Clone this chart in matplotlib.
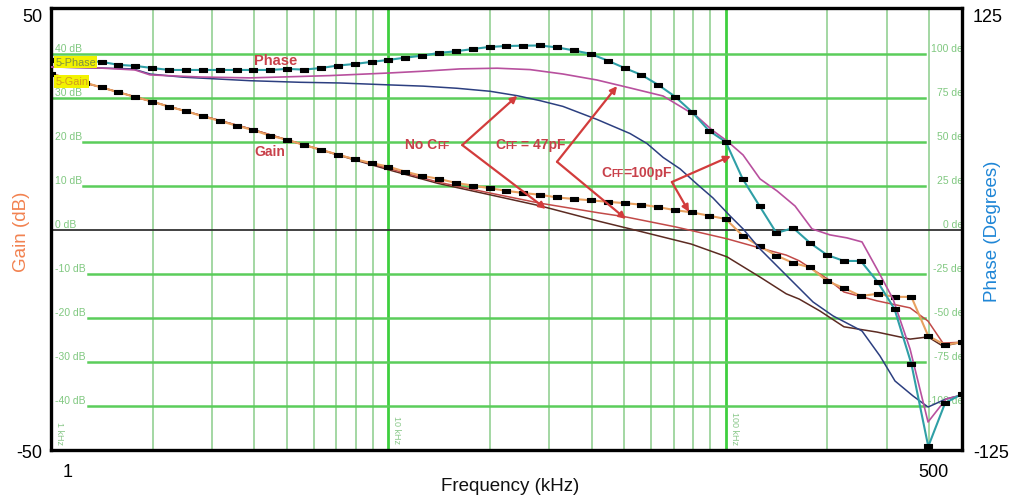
import numpy as np
import matplotlib
matplotlib.use('Agg')
import matplotlib.pyplot as plt
from matplotlib.path import Path
from matplotlib.ticker import NullLocator
from matplotlib.offsetbox import TextArea, HPacker, AnnotationBbox

plt.rcParams['font.family'] = ['Liberation Sans', 'DejaVu Sans']

# ---------------- data ----------------
# swept frequencies of the marked traces (kHz), 20 points per decade
freq_khz = np.logspace(0, 2.7, 55)

phase_100pF = [96.5, 96.5, 96.0, 95.5, 93.8, 93.2, 92.0, 90.9, 90.9, 90.9,
               90.9, 90.9, 90.9, 90.9, 91.5, 91.1, 92.0, 93.4, 94.3, 95.5,
               96.6, 97.9, 99.0, 100.6, 101.5, 102.8, 104.0, 104.5, 104.7, 104.8,
               103.7, 102.0, 100.0, 96.2, 92.0, 88.1, 82.4, 75.7, 67.0, 56.4,
               50.0, 29.0, 13.6, -1.7, 1.1, -7.4, -14.2, -17.6, -17.6, -29.5,
               -44.9, -76.1, -123.0, -98.3, -93.2]

gain_100pF = [35.5, 34.5, 33.5, 32.4, 31.3, 30.2, 29.2, 28.0, 27.0, 25.8,
              24.8, 23.7, 22.7, 21.4, 20.5, 19.3, 18.25, 17.1, 16.1, 15.2,
              14.4, 13.25, 12.3, 11.6, 10.7, 10.1, 9.5, 8.9, 8.4, 8.0,
              7.4, 7.05, 6.75, 6.4, 6.1, 5.75, 5.2, 4.5, 4.0, 3.25,
              2.5, -1.3, -3.7, -5.8, -7.5, -8.5, -11.6, -13.2, -15.0, -14.5,
              -15.2, -15.2, -24.1, -26.1, -25.5]

freq_47pF_phase = [1.0, 1.397, 1.774, 1.965, 2.764, 3.889, 5.47, 6.71, 10.1, 12.7,
                   16.3, 21.0, 26.3, 32.9, 41.5, 52.0, 65.2, 82.1, 91.0, 100.8,
                   112.5, 126.3, 141.8, 160.4, 180.1, 203.6, 228.7, 253.3, 280.6, 313.0,
                   351.6, 397.5, 449.6, 501.0]
phase_47pF = [92.6, 92.0, 90.9, 88.1, 86.9, 86.4, 87.2, 87.7, 89.2, 90.2,
              91.5, 91.9, 91.1, 88.6, 85.2, 80.7, 76.1, 64.5, 56.8, 50.6,
              42.6, 29.0, 22.2, 13.6, 0.6, -2.8, -4.5, -6.8, -22.2, -39.2,
              -67.6, -109.1, -96.0, -93.8]

freq_noCFF_phase = [1.0, 1.397, 1.75, 1.965, 2.461, 3.889, 5.47, 7.19, 10.1, 12.7,
                    15.97, 20.0, 24.05, 28.1, 32.9, 41.5, 52.0, 58.4, 65.2, 73.2,
                    82.1, 91.6, 102.9, 112.5, 126.3, 144.8, 162.5, 181.3, 207.8, 253.3,
                    286.4, 317.3, 358.8, 397.5, 449.6, 501.0]
phase_noCFF = [92.6, 92.0, 91.5, 88.6, 86.8, 84.8, 83.9, 83.5, 82.4, 81.7,
               80.5, 78.8, 76.3, 73.5, 70.2, 62.8, 54.8, 49.1, 41.2, 34.7,
               26.1, 18.2, 8.0, 0.6, -10.8, -22.2, -31.8, -40.9, -48.8, -57.4,
               -71.6, -85.8, -94.3, -100.6, -96.0, -93.8]

freq_47pF_gain = [1.0, 1.397, 1.965, 2.764, 3.889, 5.0, 7.19, 10.1, 14.0, 20.0,
                  28.1, 42.0, 50.3, 71.0, 100.8, 126.3, 151.0, 165.0, 200.0, 224.0,
                  280.6, 351.6, 397.5, 440.0, 501.0]
gain_47pF = [35.5, 32.5, 29.3, 26.1, 23.0, 20.5, 17.0, 13.9, 10.9, 8.4,
             6.1, 3.9, 3.0, 0.7, -2.0, -4.1, -5.7, -7.0, -11.1, -14.1,
             -16.1, -17.7, -20.7, -25.7, -25.5]

freq_noCFF_gain = [1.0, 1.397, 1.965, 2.764, 3.889, 5.0, 7.19, 10.1, 14.0, 20.0,
                   28.1, 42.0, 55.0, 79.0, 100.8, 126.3, 151.0, 165.0, 190.0, 224.0,
                   280.6, 351.6, 397.5, 440.0, 501.0]
gain_noCFF = [35.5, 32.5, 29.3, 26.1, 23.0, 20.5, 16.9, 13.6, 10.6, 8.0,
              5.5, 2.0, -0.2, -3.2, -6.1, -10.7, -14.5, -15.7, -18.4, -22.0,
              -23.2, -24.8, -24.3, -26.4, -25.5]

gain_grid = [40, 30, 20, 10, -10, -20, -30, -40]
minor_freqs = [2, 3, 4, 5, 6, 7, 8, 9, 20, 30, 40, 50, 60, 70, 80, 90, 200, 300, 400]
major_freqs = [10, 100]

# ---------------- figure ----------------
W, H = 1011, 502
fig = plt.figure(figsize=(W / 100, H / 100), dpi=100)


def fx(px):
    return px / W


def fy(py):
    return 1 - py / H


# outer chart axes (tick labels only)
axo = fig.add_axes([fx(51), fy(452), 911 / W, (452 - 16) / H], frameon=False)
axo.set_xscale('log')
axo.set_xlim(0.885, 616)
axo.set_xticks([1, 500])
axo.set_xticklabels(['1', '500'])
axo.xaxis.set_minor_locator(NullLocator())
axo.set_ylim(-50, 50)
axo.set_yticks([-50, 50])
axo.set_yticklabels(['-50', '50'])
axo.tick_params(axis='x', length=0, labelsize=13, pad=9)
axo.tick_params(axis='y', length=0, labelsize=13, pad=6)
axo2 = axo.twinx()
axo2.set_frame_on(False)
axo2.set_ylim(-125, 125)
axo2.set_yticks([-125, 125])
axo2.set_yticklabels(['-125', '125'])
axo2.tick_params(axis='y', length=0, labelsize=13, pad=8)

# inner Bode plot axes
ax = fig.add_axes([fx(51), fy(451), 911 / W, (451 - 9) / H])
ax.set_xscale('log')
ax.set_xlim(1, 10 ** 2.7)
ax.set_ylim(-50, 50.45)
ax.set_xticks([])
ax.set_yticks([])
ax.xaxis.set_minor_locator(NullLocator())
for s in ax.spines.values():
    s.set_color('black')
    s.set_linewidth(2.4)
    s.set_zorder(20)

axp = ax.twinx()
axp.set_ylim(-125, 126.1)
axp.set_yticks([])
for s in axp.spines.values():
    s.set_visible(False)

# grid
for f in minor_freqs:
    ax.axvline(f, color='#93d193', lw=1.2, zorder=1)
for f in major_freqs:
    ax.axvline(f, color='#3fcf3f', lw=2.0, zorder=1.1)
for g in gain_grid:
    start = 0.0 if g >= 30 else (0.035 if g > 0 else 0.041)
    ax.axhline(g, xmin=start, xmax=0.959, color='#5bcd5b', lw=1.8, zorder=1.2)
ax.axhline(0, color='#333333', lw=1.3, zorder=1.3)

ytr = ax.get_yaxis_transform()
for g in gain_grid + [0]:
    ax.text(0.004, g + 0.3, f'{g} dB', transform=ytr, fontsize=7.5, color='#80c880',
            ha='left', va='bottom', zorder=2)
    ax.text(1.0075, g + 0.3, f'{int(g * 2.5)} deg', transform=ytr, fontsize=7.5,
            color='#80c880', ha='right', va='bottom', zorder=2, clip_on=True)

xtr = ax.get_xaxis_transform()
ax.text(1.028, 0.04, '1 kHz', transform=xtr, rotation=-90, fontsize=6.5, color='#8ac88a',
        ha='left', va='center', zorder=2)
ax.text(10.25, 0.0475, '10 kHz', transform=xtr, rotation=-90, fontsize=6.5, color='#8ac88a',
        ha='left', va='center', zorder=2)
ax.text(103.2, 0.052, '100 kHz', transform=xtr, rotation=-90, fontsize=6.5, color='#8ac88a',
        ha='left', va='center', zorder=2)

# gain traces
ax.plot(freq_noCFF_gain, gain_noCFF, color='#5c2b22', lw=1.1, zorder=3)
ax.plot(freq_47pF_gain, gain_47pF, color='#c24a48', lw=1.1, zorder=3.1)
rect = Path([(-1, -0.5), (1, -0.5), (1, 0.5), (-1, 0.5), (-1, -0.5)],
            [Path.MOVETO, Path.LINETO, Path.LINETO, Path.LINETO, Path.CLOSEPOLY])
ax.plot(freq_khz, gain_100pF, color='#e8a060', lw=1.5, zorder=3.2,
        marker=rect, ms=6.2, mfc='black', mec='black', mew=0.8)

# phase traces
axp.plot(freq_noCFF_phase, phase_noCFF, color='#2c3f80', lw=1.1, zorder=3)
axp.plot(freq_47pF_phase, phase_47pF, color='#b8509e', lw=1.2, zorder=3.1)
axp.plot(freq_khz, phase_100pF, color='#2f9fa6', lw=1.5, zorder=3.2,
         marker=rect, ms=6.2, mfc='black', mec='black', mew=0.8)

# trace name boxes
axp.text(0.0045, 0.878, '5-Phase', transform=ax.transAxes, fontsize=7.8, color='#7e9040',
         ha='left', va='center', zorder=10,
         bbox=dict(boxstyle='square,pad=0.12', fc='#f2f200', ec='none'))
axp.text(0.0045, 0.834, '5-Gain', transform=ax.transAxes, fontsize=7.8, color='#d09a20',
         ha='left', va='center', zorder=10,
         bbox=dict(boxstyle='square,pad=0.12', fc='#f2f200', ec='none'))

# annotations
txt_red = '#c8404a'
arrow_red = '#d23c3c'
axp.text(3.99, 38.6, 'Phase', transform=ax.transData, fontsize=10.5, fontweight='bold',
         color=txt_red, ha='left', va='center', zorder=12)
axp.text(4.01, 18.0, 'Gain', transform=ax.transData, fontsize=10, fontweight='bold',
         color=txt_red, ha='left', va='center', zorder=12)


def cff_label(x, y, parts):
    children = [TextArea(s, textprops=dict(color=txt_red, fontsize=fs, fontweight='bold'))
                for s, fs in parts]
    box = HPacker(children=children, align='baseline', pad=0, sep=0)
    ab = AnnotationBbox(box, (x, y), xycoords=ax.transData, frameon=False,
                        box_alignment=(0, 0.5), pad=0, zorder=12)
    axp.add_artist(ab)


cff_label(11.2, 19.5, [('No C', 10), ('FF', 7.3)])
cff_label(20.7, 19.5, [('C', 10), ('FF', 7.3), (' = 47pF', 10)])
cff_label(42.7, 13.2, [('C', 10), ('FF', 7.3), ('=100pF', 10)])

arrows = [((16.55, 19.3), (24.1, 30.5)), ((16.55, 19.3), (29.3, 4.8)),
          ((31.6, 15.5), (47.6, 32.7)), ((31.6, 15.5), (50.6, 2.5)),
          ((69.2, 10.9), (103.5, 16.8)), ((69.2, 10.9), (77.8, 4.1))]
for (x0, y0), (x1, y1) in arrows:
    axp.annotate('', xy=(x1, y1), xycoords=ax.transData, xytext=(x0, y0),
                 textcoords=ax.transData, zorder=11,
                 arrowprops=dict(arrowstyle='-|>', color=arrow_red, lw=1.6,
                                 mutation_scale=10, shrinkA=0, shrinkB=0))

# axis titles
fig.text(fx(21.5), fy(232), 'Gain (dB)', rotation=90, ha='center', va='center',
         fontsize=13.5, color='#f28250')
fig.text(fx(992.5), fy(231), 'Phase (Degrees)', rotation=90, ha='center', va='center',
         fontsize=13.5, color='#1f86d6')
fig.text(fx(510), fy(487), 'Frequency (kHz)', ha='center', va='center', fontsize=13.5,
         color='#111111')

fig.savefig('out.png', dpi=100)
